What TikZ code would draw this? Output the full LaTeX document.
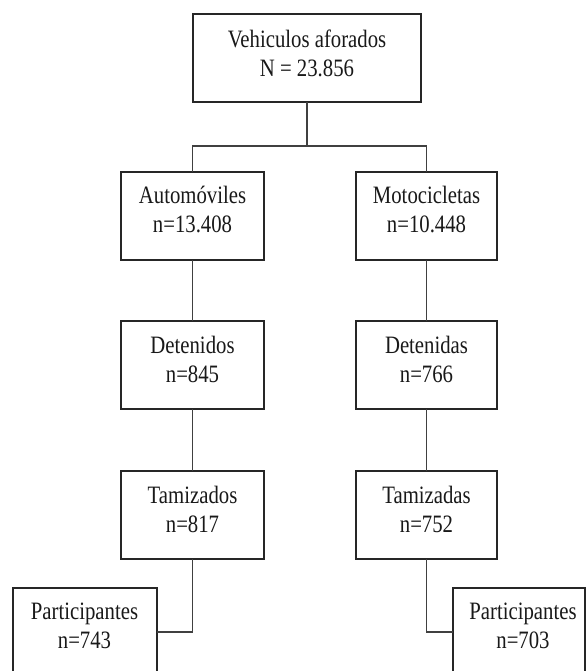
\documentclass[tikz,border=0pt]{standalone}
\usepackage{fontspec}
\setmainfont{Liberation Serif}[FakeStretch=0.83]
\tikzset{
  box/.style={draw=black!85, line width=1.1pt, inner sep=0pt, outer sep=0pt, fill=white},
  txt/.style={inner sep=0pt, font=\fontsize{18.75pt}{21.75pt}\selectfont, text=black!90},
  conn/.style={draw=black!75, line width=1.1pt},
}
\newcommand\mkbox[5]{\node[box, minimum width={(#4-#2)*0.75pt}, minimum height={(#5-#3)*0.75pt}] (#1) at ({(#2+#4)/2},{(#3+#5)/2}) {};}
\newcommand\mktext[5]{%
  \node[txt, anchor=base] (#1a) at ([yshift=-32*0.75pt]#3,{#2}) {#4};%
  \node[txt, anchor=base] (#1b) at ([yshift=-61*0.75pt]#3,{#2}) {#5};}
\begin{document}
\begin{tikzpicture}[x=0.75pt, y=-0.75pt]
\useasboundingbox (0,0) rectangle (586,671);
\clip (0,0) rectangle (586,671);
\fill[white] (0,0) rectangle (586,671);
% boxes
\mkbox{top}{193}{14}{421}{102}
\mkbox{auto}{121}{172}{264}{260}
\mkbox{moto}{356}{172}{497}{260}
\mkbox{detl}{121}{321}{264}{409}
\mkbox{detr}{356}{321}{497}{409}
\mkbox{taml}{121}{471}{264}{559}
\mkbox{tamr}{356}{471}{497}{559}
\mkbox{partl}{13}{588}{157}{678}
\mkbox{partr}{453}{588}{585}{678}
% texts
\node[txt, anchor=base] (topa) at (307,47) {Vehiculos aforados};
\node[txt, anchor=base] (topb) at (307,76) {N = 23.856};
\node[txt, anchor=base] (autoa) at (192.5,203) {Automóviles};
\node[txt, anchor=base] (autob) at (192.5,232) {n=13.408};
\node[txt, anchor=base] (motoa) at (426.5,203) {Motocicletas};
\node[txt, anchor=base] (motob) at (426.5,232) {n=10.448};
\node[txt, anchor=base] (detla) at (192.5,353) {Detenidos};
\node[txt, anchor=base] (detlb) at (192.5,382) {n=845};
\node[txt, anchor=base] (detra) at (426.5,353) {Detenidas};
\node[txt, anchor=base] (detrb) at (426.5,382) {n=766};
\node[txt, anchor=base] (tamla) at (192.5,503) {Tamizados};
\node[txt, anchor=base] (tamlb) at (192.5,532) {n=817};
\node[txt, anchor=base] (tamra) at (426.5,503) {Tamizadas};
\node[txt, anchor=base] (tamrb) at (426.5,532) {n=752};
\node[txt, anchor=base] (partla) at (84.5,619) {Participantes};
\node[txt, anchor=base] (partlb) at (84.5,648) {n=743};
\node[txt, anchor=base] (partra) at (523,619) {Participantes};
\node[txt, anchor=base] (partrb) at (523,648) {n=703};
% connectors
\coordinate (split) at (307,146);
\draw[conn] (top.south) -- (split);
\draw[conn] (auto.north) |- (split) -| (moto.north);
\draw[conn] (auto.south) -- (detl.north);
\draw[conn] (moto.south) -- (detr.north);
\draw[conn] (detl.south) -- (taml.north);
\draw[conn] (detr.south) -- (tamr.north);
\draw[conn] (taml.south) |- (partl.east |- 0,632);
\draw[conn] (tamr.south) |- (partr.west |- 0,632);
\end{tikzpicture}
\end{document}
